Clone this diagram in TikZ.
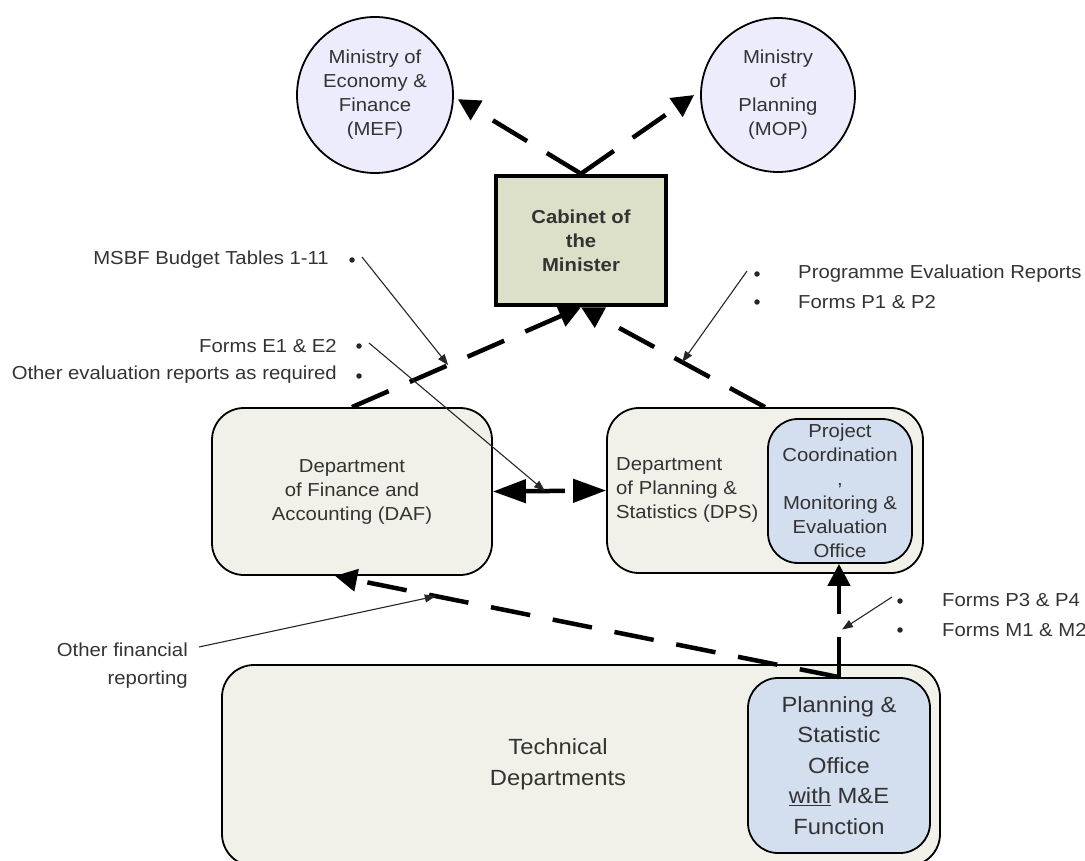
\documentclass[tikz,border=0pt]{standalone}
\usepackage{fontspec}
\setmainfont{Liberation Sans}[FakeStretch=1.08]
\usetikzlibrary{arrows.meta,calc}

\definecolor{lavender}{HTML}{ECECFC}
\definecolor{cabfill}{HTML}{DDE0C9}
\definecolor{deptfill}{HTML}{F1F1EA}
\definecolor{officefill}{HTML}{D3DEEE}
\definecolor{ink}{HTML}{333333}

\tikzset{
  base/.style={font=\fontsize{18.8pt}{24pt}\selectfont, text=ink},
  bigtext/.style={font=\fontsize{22pt}{30.5pt}\selectfont, text=ink},
  ministry/.style={base, circle, draw=black, line width=1.8pt, fill=lavender, align=center, inner sep=0pt},
  cabinet/.style={base, font=\fontsize{18.8pt}{24pt}\selectfont\bfseries, draw=black, line width=4.5pt, fill=cabfill,
                  align=center, minimum width=170pt, minimum height=129pt, inner sep=0pt},
  dept/.style={base, draw=black, line width=1.8pt, fill=deptfill, rounded corners=32pt, align=center, inner sep=0pt},
  office/.style={draw=black, line width=1.8pt, fill=officefill, rounded corners=30pt, align=center, inner sep=0pt},
  lbl/.style={base, inner sep=0pt},
  bullet/.style={circle, fill=black!85, inner sep=0pt, minimum size=5.5pt},
  flow/.style={line width=4.5pt, dash pattern=on 40pt off 23pt, -{Triangle[length=22pt,width=22pt]}},
  flowboth/.style={line width=4.5pt, dash pattern=on 40pt off 23pt,
                   {Triangle[length=33pt,width=23pt]}-{Triangle[length=33pt,width=23pt]}},
  note/.style={line width=1.1pt, draw=black!85, -{Triangle[length=11pt,width=8pt]}},
}

\begin{document}
\begin{tikzpicture}[x=1pt,y=-1pt]
\useasboundingbox (0,0) rectangle (1085,861);

% ministries and cabinet
\node[ministry, minimum size=156pt] (mef) at (375,95) {Ministry of\\Economy \&\\Finance\\(MEF)};
\node[ministry, minimum size=154pt] (mop) at (778,95) {Ministry\\of\\Planning\\(MOP)};
\node[cabinet] (cab) at (581,240.5) {Cabinet of\\the\\Minister};

% departments
\node[dept, minimum width=280pt, minimum height=167pt] (daf) at (352,491.5) {Department\\of Finance and\\Accounting (DAF)};
\node[dept, minimum width=316pt, minimum height=165pt] (dps) at (765,490.5) {};
\node[lbl, anchor=west, align=left] (dpstext) at (616,490) {Department\\of Planning \&\\Statistics (DPS)};
\node[office, base, minimum width=144pt, minimum height=144pt] (pco) at (840,491)
  {Project\\Coordination\\,\\Monitoring \&\\Evaluation\\Office};

\node[dept, minimum width=718pt, minimum height=201pt] (tech) at (581,765.5) {};
\node[bigtext, align=center] (techtext) at (558,764.5) {Technical\\Departments};
\node[office, bigtext, minimum width=182pt, minimum height=175pt] (pso) at (839,765.5)
  {Planning \&\\Statistic\\Office\\\underline{with} M\&E\\Function};

% reporting flows
\coordinate (dafin) at ([xshift=-17pt]daf.south);
\coordinate (pcoin) at (pso.north |- pco.south);
\draw[flow] (cab.north) -- ([xshift=4pt]mef.-3);
\draw[flow] (cab.north) -- ([xshift=-6pt]mop.west);
\draw[flow] (daf.north) -- (cab.south);
\draw[flow] (dps.north) -- (cab.south);
\draw[flowboth] (daf.east) -- (dps.west);
\draw[flow] (pso.north) -- (pcoin);
\draw[flow] (pso.north) -- (dafin);

% annotations, left side
\node[lbl, anchor=east] (msbf) at (329,260) {MSBF Budget Tables 1-11};
\node[bullet] (bmsbf) at (352,260) {};
\coordinate (smsbf) at (362,257);
\draw[note] (smsbf) -- ($(daf.north)!0.42!(cab.south)$);

\node[lbl, anchor=east] (forme) at (337,346) {Forms E1 \& E2};
\node[bullet] (bforme) at (359,346) {};
\node[lbl, anchor=east] (otheval) at (337,375) {Other evaluation reports as required};
\node[bullet] (botheval) at (359,376) {};
\coordinate (sforme) at (369,343);
\draw[note] (sforme) -- ($(daf.east)!0.46!(dps.west)$);

% annotations, right side
\node[bullet] (bprog) at (757,274) {};
\node[lbl, anchor=west] (prog) at (798,274) {Programme Evaluation Reports};
\node[bullet] (bformp) at (757,302) {};
\node[lbl, anchor=west] (formp) at (798,302) {Forms P1 \& P2};
\coordinate (sprog) at (747,271);
\draw[note] (sprog) -- ($(dps.north)!0.45!(cab.south)$);

\node[bullet] (bformp3) at (900,601) {};
\node[lbl, anchor=west] (formp3) at (942,600) {Forms P3 \& P4};
\node[bullet] (bformm) at (900,630) {};
\node[lbl, anchor=west] (formm) at (942,630) {Forms M1 \& M2};
\coordinate (sformp3) at (892,597);
\draw[note] (sformp3) -- ($(pso.north)!0.42!(pcoin)+(3,0)$);

% annotation, lower left
\node[lbl, anchor=east] (othfin) at (188,650) {Other financial};
\node[lbl, anchor=east] (othrep) at (188,680) {reporting};
\coordinate (sothfin) at (199,647);
\draw[note] (sothfin) -- ($(pso.north)!0.8!(dafin)$);
\end{tikzpicture}
\end{document}
